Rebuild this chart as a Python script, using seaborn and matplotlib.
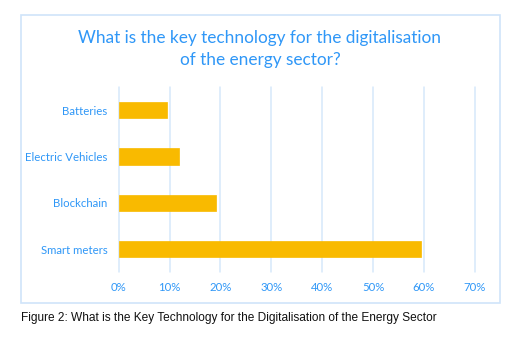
import matplotlib
matplotlib.use("Agg")
import matplotlib.pyplot as plt
import seaborn as sns
import pandas as pd
from matplotlib.patches import Rectangle

categories = ["Batteries", "Electric Vehicles", "Blockchain", "Smart meters"]
values = [0.095, 0.119, 0.191, 0.595]
xticks = [0, 0.1, 0.2, 0.3, 0.4, 0.5, 0.6, 0.7]
xtick_labels = ["0%", "10%", "20%", "30%", "40%", "50%", "60%", "70%"]
title = "What is the key technology for the digitalisation\nof the energy sector?"
caption = "Figure 2: What is the Key Technology for the Digitalisation of the Energy Sector"

df = pd.DataFrame({"category": categories, "value": values})

sns.set_theme(style="white")
plt.rcParams["font.family"] = ["Lato", "DejaVu Sans"]

W, H = 521, 344
fig = plt.figure(figsize=(W / 100, H / 100), dpi=100)

blue_txt = "#2F97F7"
grid_col = "#D6E8FB"

# outer chart box
fig.patches.append(Rectangle((20.5 / W, 1 - 302.7 / H), 479.5 / W, 287.4 / H,
                             transform=fig.transFigure, fill=False,
                             edgecolor="#CFE4FA", linewidth=1.2))

ax = fig.add_axes([118.7 / W, 1 - 272.2 / H, 356.0 / W, 185.0 / H])
sns.barplot(data=df, x="value", y="category", orient="h", color="#F9BA00",
            saturation=1, width=0.35, ax=ax, edgecolor="#F9BA00", linewidth=0.5)
ax.set_xlim(0, 0.7)
ax.set_ylim(3.5, -0.5)
ax.set_xticks(xticks)
ax.set_xticklabels(xtick_labels)
ax.set_xlabel("")
ax.set_ylabel("")
for s in ax.spines.values():
    s.set_visible(False)
ax.grid(axis="x", color=grid_col, linewidth=1.1)
ax.grid(axis="y", visible=False)
ax.set_axisbelow(True)
ax.tick_params(axis="x", length=0, pad=7, labelsize=8.2, labelcolor=blue_txt)
ax.tick_params(axis="y", length=0, pad=8, labelsize=8.2, labelcolor=blue_txt)
for l in ax.get_xgridlines():
    l.set_clip_on(False)

fig.text(260 / W, 1 - 49 / H, title, ha="center", va="center", color=blue_txt,
         fontsize=12.4, linespacing=1.5)
fig.text(20.7 / W, 1 - 318.5 / H, caption, ha="left", va="center", color="#111111",
         fontsize=8.55, family=["Liberation Sans", "DejaVu Sans"])

fig.savefig("out.png", dpi=100)
